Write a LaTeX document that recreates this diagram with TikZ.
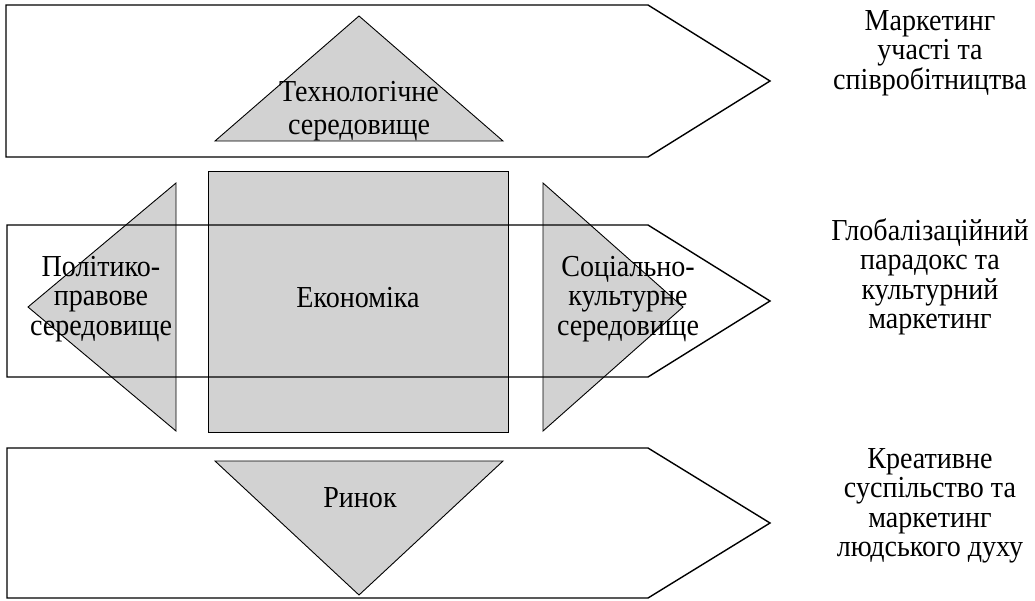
\documentclass[tikz,border=0pt]{standalone}
\usepackage{fontspec}
\setmainfont{Liberation Serif}[FakeStretch=0.92]
\definecolor{shadegray}{RGB}{210,210,210}
\tikzset{
  band/.style={draw=black, line width=1.4pt, line join=miter},
  piece/.style={draw=black, fill=shadegray, line width=0.9pt, line join=miter},
  lbl/.style={align=center, inner sep=0pt, font=\fontsize{30.5}{29.5}\selectfont},
}
\begin{document}
\begin{tikzpicture}[x=1pt,y=-1pt]
\useasboundingbox (0,0) rectangle (1035,600);

% upper band with the technology triangle
\draw[band] (6,5) -- (648,5) -- (770,81) -- (648,157) -- (6,157) -- cycle;
\draw[piece] (215,141) -- (359,16) -- (503,141) -- cycle;

% central block: economy square and side triangles
\draw[piece] (208,171) rectangle (508,432);
\draw[piece] (176,183) -- (28,307) -- (176,431) -- cycle;
\draw[piece] (543,183) -- (683,307) -- (543,431) -- cycle;
\draw[band] (7,225) -- (648,225) -- (770,301) -- (648,377) -- (7,377) -- cycle;

% lower band with the market triangle
\draw[band] (7,448) -- (648,448) -- (770,523) -- (648,598) -- (7,598) -- cycle;
\draw[piece] (215,461) -- (503,461) -- (359,595) -- cycle;

% labels inside the figures
\node[lbl, font=\fontsize{30.5}{33}\selectfont] (tech) at (359,111) {Технологічне\\середовище};
\node[lbl] (econ) at (358,298) {Економіка};
\node[lbl] (polit) at (101,299) {Політико-\\правове\\середовище};
\node[lbl] (soc) at (628,299) {Соціально-\\культурне\\середовище};
\node[lbl] (market) at (360,498) {Ринок};

% captions on the right
\node[lbl] (cap1) at (930,53) {Маркетинг\\участі та\\співробітництва};
\node[lbl] (cap2) at (930,277) {Глобалізаційний\\парадокс та\\культурний\\маркетинг};
\node[lbl] (cap3) at (930,506) {Креативне\\суспільство та\\маркетинг\\людського духу};
\end{tikzpicture}
\end{document}
